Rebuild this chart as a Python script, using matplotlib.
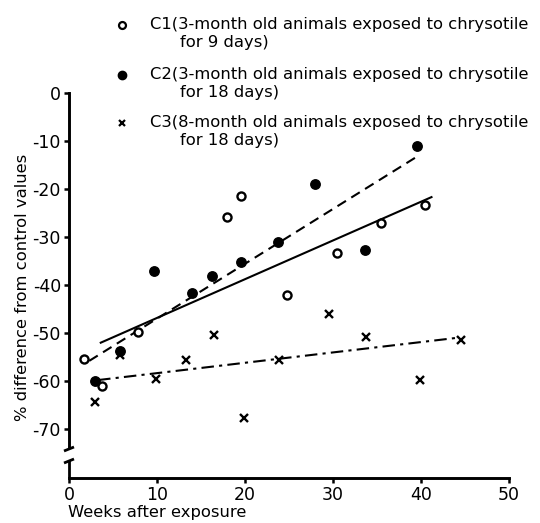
import matplotlib
matplotlib.use('Agg')
import matplotlib.pyplot as plt

# data (weeks after exposure, % difference from control)
c1_weeks = [1.7, 3.8, 7.8, 17.9, 19.5, 24.8, 30.4, 35.5, 40.5]
c1_diff = [-55.4, -61.0, -49.8, -25.8, -21.5, -42.0, -33.4, -27.1, -23.3]

c2_weeks = [3.0, 5.8, 9.7, 14.0, 16.3, 19.6, 23.8, 28.0, 33.6, 39.6]
c2_diff = [-60.0, -53.8, -37.1, -41.7, -38.1, -35.2, -31.0, -18.9, -32.7, -11.0]

c3_weeks = [3.0, 5.8, 9.9, 13.3, 16.5, 19.9, 23.9, 29.6, 33.7, 39.9, 44.6]
c3_diff = [-64.4, -54.6, -59.6, -55.6, -50.4, -67.7, -55.6, -46.0, -50.8, -59.8, -51.4]

# regression lines (end points as drawn)
c1_fit_weeks = [3.5, 41.3]
c1_fit_diff = [-52.1, -21.6]
c2_fit_weeks = [2.3, 39.5]
c2_fit_diff = [-55.8, -13.3]
c3_fit_weeks = [3.3, 44.1]
c3_fit_diff = [-59.8, -51.0]

x_ticks = [0, 10, 20, 30, 40, 50]
y_ticks = [0, -10, -20, -30, -40, -50, -60, -70]

legend_lines = [
    ('C1(3-month old animals exposed to chrysotile', 'for 9 days)'),
    ('C2(3-month old animals exposed to chrysotile', 'for 18 days)'),
    ('C3(8-month old animals exposed to chrysotile', 'for 18 days)'),
]

plt.rcParams['font.family'] = ['DejaVu Sans']
FS = 11.8
TICK_FS = 12.5
W, H = 540, 523

fig = plt.figure(figsize=(W / 100, H / 100), dpi=100)
ax = fig.add_axes([69 / W, (H - 478) / H, (509 - 69) / W, (478 - 93) / H])

lw = 1.5
ax.plot(c1_fit_weeks, c1_fit_diff, color='black', lw=lw, solid_capstyle='butt')
ax.plot(c2_fit_weeks, c2_fit_diff, color='black', lw=lw, linestyle=(0, (4.8, 3.0)))
ax.plot(c3_fit_weeks, c3_fit_diff, color='black', lw=lw, linestyle=(0, (6, 2.5, 1.5, 2.5)))

ax.plot(c1_weeks, c1_diff, 'o', ms=5.8, mfc='white', mec='black', mew=1.7, zorder=3)
ax.plot(c2_weeks, c2_diff, 'o', ms=6.8, mfc='black', mec='black', zorder=3)
ax.plot(c3_weeks, c3_diff, 'x', ms=6.2, mec='black', mew=1.7, zorder=3)

ax.set_xlim(0, 50)
ax.set_ylim(-80.2, 0)
ax.set_xticks(x_ticks)
ax.set_yticks(y_ticks)
ax.set_xticklabels([str(t) for t in x_ticks], fontsize=TICK_FS)
ax.set_yticklabels([str(t) for t in y_ticks], fontsize=TICK_FS)
ax.tick_params(direction='out', length=3.8, width=1.8, pad=2)

for s in ['top', 'right']:
    ax.spines[s].set_visible(False)
ax.spines['left'].set_linewidth(2.1)
ax.spines['bottom'].set_linewidth(2.1)
ax.spines['left'].set_bounds(-73.8, 0)

# axis break on the y axis
px = 1.0 / (509 - 69)
py = 1.0 / (478 - 93)
brk = dict(color='black', lw=2, transform=ax.transAxes, clip_on=False, solid_capstyle='butt')
ax.plot([0, 0], [0, 18 * py], **brk)
ax.plot([-5 * px, 5 * px], [27 * py, 31 * py], **brk)
ax.plot([-5 * px, 5 * px], [15 * py, 19 * py], **brk)

ax.set_xlabel('')
ax.set_ylabel('')
fig.text(23 / W, (H - 287) / H, '% difference from control values', rotation=90,
         fontsize=FS, ha='center', va='center')
fig.text(68 / W, (H - 512) / H, 'Weeks after exposure', fontsize=FS, ha='left', va='center')

# legend written above the axes
marker_styles = [
    dict(marker='o', ms=5, mfc='white', mec='black', mew=1.6),
    dict(marker='o', ms=6, mfc='black', mec='black'),
    dict(marker='x', ms=5, mec='black', mew=1.6),
]
row_y = [25, 75, 123]
for (first, second), y, st in zip(legend_lines, row_y, marker_styles):
    fig.lines.append(plt.Line2D([122 / W], [(H - y) / H], transform=fig.transFigure,
                                linestyle='none', **st))
    fig.text(150 / W, (H - y) / H, first, fontsize=FS, ha='left', va='center')
    fig.text(180 / W, (H - y - 18) / H, second, fontsize=FS, ha='left', va='center')

fig.savefig('out.png', dpi=100)
